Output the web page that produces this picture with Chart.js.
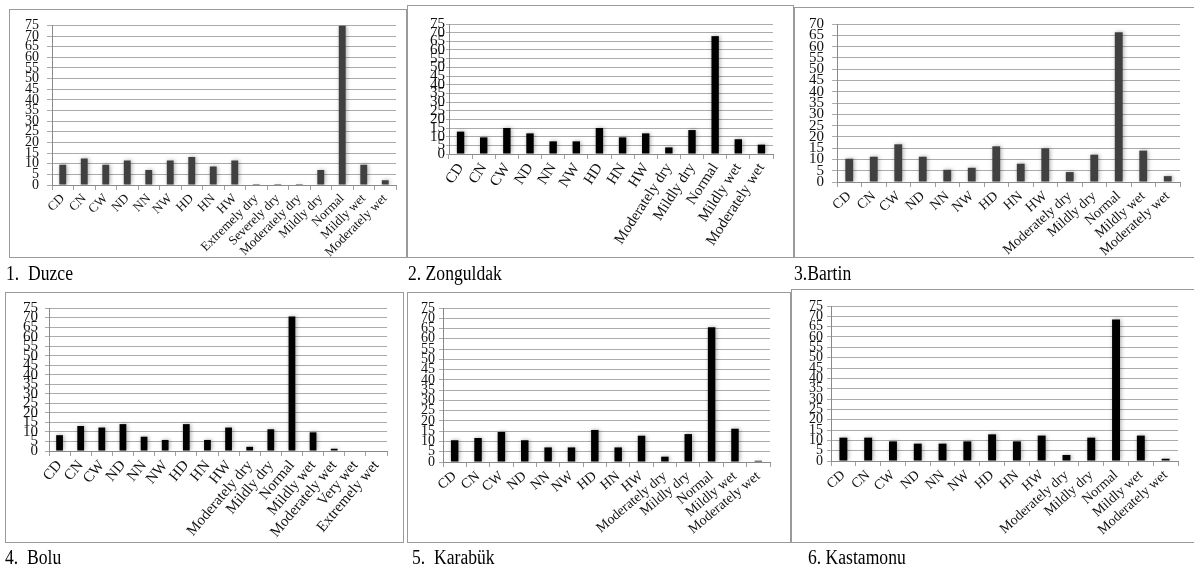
<!DOCTYPE html>
<html>
<head>
<meta charset="utf-8">
<script src="https://cdn.jsdelivr.net/npm/chart.js@4"></script>
<style>
  body { margin: 0; background: #fff; width: 1194px; height: 575px; position: relative; overflow: hidden; }
  .panel { position: absolute; }
  .frame { position: absolute; border: 1.5px solid #9a9a9a; box-sizing: border-box; pointer-events: none; }
  .caption {
    position: absolute; font-family: "Liberation Serif", serif; font-size: 20px; line-height: 20px;
    color: #000; white-space: pre; transform: scaleX(0.88); transform-origin: left top;
  }
</style>
</head>
<body>
<div id="root"></div>
<script>
// categories
const labels14 = ["CD", "CN", "CW", "ND", "NN", "NW", "HD", "HN", "HW",
  "Moderately dry", "Mildly dry", "Normal", "Mildly wet", "Moderately wet"];
const duzceLabels = ["CD", "CN", "CW", "ND", "NN", "NW", "HD", "HN", "HW",
  "Extremely dry", "Severely dry", "Moderately dry", "Mildly dry", "Normal", "Mildly wet", "Moderately wet"];
const boluLabels = ["CD", "CN", "CW", "ND", "NN", "NW", "HD", "HN", "HW",
  "Moderately dry", "Mildly dry", "Normal", "Mildly wet", "Moderately wet", "Very wet", "Extremely wet"];

// values (%)
const duzce = [9.5, 12.5, 9.5, 11.5, 7, 11.5, 13.2, 8.7, 11.5, 0.5, 0.5, 0.5, 7, 75, 9.5, 2.2];
const zonguldak = [12.9, 9.6, 15, 11.9, 7.3, 7.3, 15, 9.6, 11.9, 3.8, 13.8, 68, 8.5, 5.4];
const bartin = [10.3, 11.2, 16.7, 11.2, 5.4, 6.3, 15.8, 8.1, 14.9, 4.4, 12.1, 66.3, 13.9, 2.6];
const bolu = [8.3, 13.1, 12.3, 14.1, 7.5, 5.8, 14.1, 5.8, 12.3, 2.2, 11.4, 70.5, 9.8, 1.2, 0, 0];
const karabuk = [10.6, 11.7, 14.6, 10.6, 7.1, 7.1, 15.6, 7.1, 12.8, 2.6, 13.6, 65.6, 16.2, 0.6];
const kastamonu = [11.3, 11.3, 9.5, 8.4, 8.4, 9.5, 12.9, 9.5, 12.3, 2.9, 11.3, 68.5, 12.3, 1.1];

// captions
const captions = ["1.  Duzce", "2. Zonguldak", "3.Bartin", "4.  Bolu", "5.  Karabük", "6. Kastamonu"];

const panels = [
  { labels: duzceLabels, data: duzce, box: [9, 9, 398, 249], top: 16, right: 11, yw: 43, xh: 73,
    yFont: 14, xFont: 13, rot: 45, color: "#404040", max: 75, tl: 5, tp: 8, cap: [6, 263] },
  { labels: labels14, data: zonguldak, box: [407, 5, 387, 253], top: 19, right: 21, yw: 42, xh: 104,
    yFont: 15, xFont: 15, rot: 57, color: "#000000", max: 75, tl: 3, tp: 1, cap: [408, 263] },
  { labels: labels14, data: bartin, box: [794, 7, 402, 251], top: 16, right: 16, yw: 43, xh: 76,
    yFont: 15, xFont: 14, rot: 42, color: "#404040", max: 70, tl: 5, tp: 8, cap: [794, 263] },
  { labels: boluLabels, data: bolu, box: [5, 292, 399, 251], top: 8, right: 17, yw: 44, xh: 92,
    yFont: 15, xFont: 15, rot: 50, color: "#000000", max: 75, tl: 4, tp: 7, cap: [5, 547] },
  { labels: labels14, data: karabuk, box: [407, 292, 384, 251], top: 16, right: 21, yw: 36, xh: 81,
    yFont: 14, xFont: 14, rot: 40, color: "#000000", max: 75, tl: 4, tp: 4, cap: [412, 547] },
  { labels: labels14, data: kastamonu, box: [791, 289, 405, 254], top: 17, right: 18, yw: 40, xh: 82,
    yFont: 14, xFont: 14, rot: 42, color: "#000000", max: 75, tl: 4, tp: 4, cap: [808, 547] }
];

// soft glow around the bars, like the original office charts
const barGlow = {
  id: "barGlow",
  beforeDatasetsDraw(chart) {
    const ctx = chart.ctx;
    ctx.save();
    ctx.shadowColor = "rgba(0,0,0,0.35)";
    ctx.shadowBlur = 4;
    ctx.shadowOffsetX = 1;
    ctx.shadowOffsetY = 0;
  },
  afterDatasetsDraw(chart) {
    chart.ctx.restore();
  }
};

const root = document.getElementById("root");

panels.forEach((p, i) => {
  const [x, y, w, h] = p.box;
  const wrap = document.createElement("div");
  wrap.className = "panel";
  wrap.style.left = x + "px";
  wrap.style.top = y + "px";
  wrap.style.width = w + "px";
  wrap.style.height = h + "px";
  const canvas = document.createElement("canvas");
  wrap.appendChild(canvas);
  root.appendChild(wrap);

  const frame = document.createElement("div");
  frame.className = "frame";
  frame.style.left = x + "px";
  frame.style.top = y + "px";
  frame.style.width = w + "px";
  frame.style.height = h + "px";
  root.appendChild(frame);

  const cap = document.createElement("div");
  cap.className = "caption";
  cap.style.left = p.cap[0] + "px";
  cap.style.top = p.cap[1] + "px";
  cap.textContent = captions[i];
  root.appendChild(cap);

  new Chart(canvas, {
    type: "bar",
    data: {
      labels: p.labels,
      datasets: [{
        data: p.data,
        backgroundColor: p.color,
        borderWidth: 0,
        barPercentage: 0.32,
        categoryPercentage: 1
      }]
    },
    options: {
      responsive: true,
      maintainAspectRatio: false,
      animation: false,
      events: [],
      layout: { padding: { left: 0, top: p.top, right: p.right, bottom: 0 } },
      plugins: { legend: { display: false }, tooltip: { enabled: false } },
      scales: {
        x: {
          grid: { drawOnChartArea: false, drawTicks: true, tickLength: 5, color: "#a0a0a0" },
          border: { color: "#8a8a8a" },
          ticks: {
            color: "#111",
            font: { family: "Liberation Serif", size: p.xFont },
            minRotation: p.rot,
            maxRotation: p.rot,
            autoSkip: false,
            padding: 1
          },
          afterFit(scale) { scale.height = p.xh; }
        },
        y: {
          min: 0,
          max: p.max,
          grid: { color: "#ababab", tickLength: p.tl },
          border: { color: "#8a8a8a" },
          ticks: {
            stepSize: 5,
            autoSkip: false,
            color: "#111",
            padding: p.tp,
            font: { family: "Liberation Serif", size: p.yFont }
          },
          afterFit(scale) { scale.width = p.yw; }
        }
      }
    },
    plugins: [barGlow]
  });
});
</script>
</body>
</html>
